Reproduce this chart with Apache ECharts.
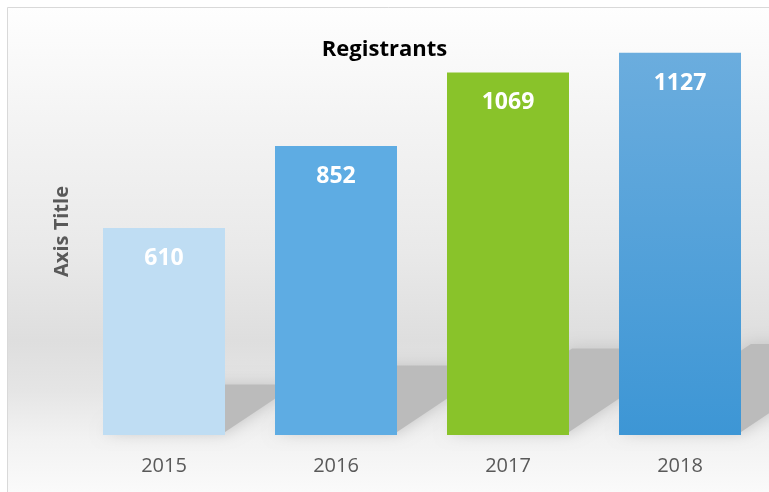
<!DOCTYPE html>
<html>
<head>
<meta charset="utf-8">
<script src="https://cdn.jsdelivr.net/npm/echarts@6/dist/echarts.min.js"></script>
<style>
    html, body {margin: 0; padding: 0; background: #fff;}
    #chart {width: 769px; height: 492px;}
</style>
</head>
<body>
<div id="chart"></div>
<script>
var years = ['2015', '2016', '2017', '2018'];
var registrants = [610, 852, 1069, 1127];
var barColors = ['#bfddf3', '#5eace3', '#89c32a', null];

var dom = document.getElementById('chart');
var myChart = echarts.init(dom);

// 2018 bar has a vertical gradient
var lastBar = new echarts.graphic.LinearGradient(0, 0, 0, 1, [
    {offset: 0, color: '#6badde'},
    {offset: 1, color: '#3d96d5'}
]);

var barData = [];
for (var i = 0; i < registrants.length; i++) {
    barData.push({
        value: registrants[i],
        itemStyle: {color: barColors[i] || lastBar}
    });
}

// perspective shadow behind each bar
function renderShadow(params, api) {
    var idx = api.value(0);
    var base = api.coord([idx, 0]);
    var top = api.coord([idx, api.value(1)]);
    var half = 61;
    var h = base[1] - top[1];
    var s = h * 0.23;
    var xl = base[0] - half, xr = base[0] + half, yb = base[1] - 3;
    return {
        type: 'polygon',
        shape: {
            points: [[xl, yb], [xr, yb], [xr + 1.5 * s, yb - s], [xl + 1.5 * s, yb - s]]
        },
        style: {
            fill: '#bbbbbb',
            shadowBlur: 16,
            shadowColor: '#c2c2c2'
        }
    };
}

var shadowData = [];
for (var j = 0; j < registrants.length; j++) {
    shadowData.push([j, registrants[j]]);
}

var option = {
    backgroundColor: '#fff',
    animation: false,
    graphic: [
        {
            type: 'rect',
            z: -100,
            shape: {x: 7.5, y: 7.5, width: 770, height: 490},
            style: {
                stroke: '#d9d9d9',
                lineWidth: 1,
                fill: new echarts.graphic.LinearGradient(0, 0, 0, 1, [
                    {offset: 0, color: '#fefefe'},
                    {offset: 0.25, color: '#f3f3f3'},
                    {offset: 0.5, color: '#e9e9e9'},
                    {offset: 0.68, color: '#dedede'},
                    {offset: 0.78, color: '#e5e5e5'},
                    {offset: 0.88, color: '#f2f2f2'},
                    {offset: 1, color: '#fbfbfb'}
                ])
            }
        }
    ],
    title: {
        text: 'Registrants',
        left: 'center',
        top: 34,
        textStyle: {
            fontFamily: 'Open Sans',
            fontWeight: 'bold',
            fontSize: 22,
            color: '#000'
        }
    },
    grid: {
        left: 78,
        right: 3,
        top: 28,
        bottom: 57
    },
    xAxis: {
        type: 'category',
        data: years,
        axisLine: {show: false},
        axisTick: {show: false},
        axisLabel: {
            margin: 21,
            fontFamily: 'Open Sans',
            fontSize: 20,
            color: '#595959'
        }
    },
    yAxis: {
        type: 'value',
        min: 0,
        max: 1200,
        interval: 200,
        name: 'Axis Title',
        nameLocation: 'middle',
        nameRotate: 90,
        nameGap: 6,
        nameTextStyle: {
            fontFamily: 'Open Sans',
            fontWeight: 'bold',
            fontSize: 20,
            color: '#595959'
        },
        axisLine: {show: false},
        axisTick: {show: false},
        axisLabel: {show: false},
        splitLine: {show: false}
    },
    series: [
        {
            type: 'custom',
            renderItem: renderShadow,
            data: shadowData,
            clip: false,
            z: 1,
            silent: true
        },
        {
            type: 'bar',
            data: barData,
            barWidth: 122,
            z: 3,
            label: {
                show: true,
                position: 'insideTop',
                distance: 19,
                fontFamily: 'Open Sans',
                fontWeight: 'bold',
                fontSize: 23,
                color: '#fff'
            }
        }
    ]
};

myChart.setOption(option);
</script>
</body>
</html>
